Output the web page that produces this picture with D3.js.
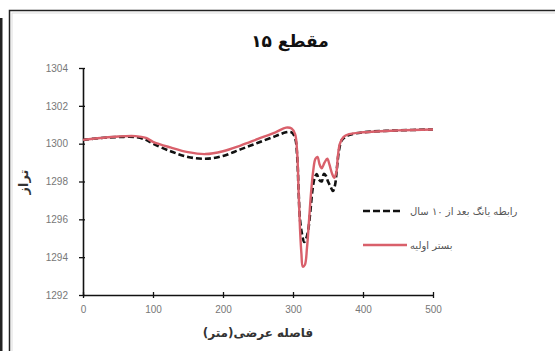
<!DOCTYPE html>
<html>
<head>
<meta charset="utf-8">
<script src="https://cdn.jsdelivr.net/npm/d3@7/dist/d3.min.js"></script>
<style>
  html, body { margin: 0; padding: 0; background: #fff; }
  svg { display: block; }
</style>
</head>
<body>
<svg id="chart" width="555" height="351"></svg>
<script>
// Cross-section 15: bed level along the transverse distance
const titleText = "مقطع ۱۵";
const xTitle = "فاصله عرضی(متر)";
const yTitle = "تراز";
const seriesNames = ["رابطه یانگ بعد از ۱۰ سال", "بستر اولیه"];

const xTicks = [0, 100, 200, 300, 400, 500];
const yTicks = [1292, 1294, 1296, 1298, 1300, 1302, 1304];

// Bed after 10 years (Yang relation)
const afterX = [0, 25, 50, 75, 90, 100, 125, 150, 175, 200, 225, 250, 275, 290, 298, 303, 306, 308, 310, 313, 316, 319, 322, 325, 328, 331, 334, 337, 341, 344, 347, 350, 354, 357, 360, 363, 366, 370, 380, 400, 450, 500];
const afterY = [1300.2, 1300.3, 1300.35, 1300.35, 1300.2, 1300.0, 1299.6, 1299.3, 1299.2, 1299.35, 1299.7, 1300.05, 1300.4, 1300.6, 1300.6, 1300.3, 1299.3, 1297.5, 1296.0, 1295.2, 1294.8, 1295.0, 1295.5, 1296.5, 1297.6, 1298.2, 1298.4, 1298.1, 1298.0, 1298.4, 1298.3, 1298.0, 1297.7, 1297.5, 1297.8, 1298.8, 1299.7, 1300.2, 1300.45, 1300.6, 1300.7, 1300.75];

// Initial bed
const initX = [0, 25, 50, 75, 90, 100, 125, 150, 175, 200, 225, 250, 275, 290, 298, 303, 306, 308, 310, 312, 314, 317, 320, 323, 326, 329, 332, 335, 338, 341, 345, 349, 352, 356, 359, 362, 364, 367, 372, 380, 400, 450, 500];
const initY = [1300.2, 1300.3, 1300.38, 1300.4, 1300.3, 1300.1, 1299.8, 1299.55, 1299.45, 1299.6, 1299.9, 1300.25, 1300.6, 1300.85, 1300.8, 1300.5, 1299.5, 1297.5, 1295.5, 1294.2, 1293.5, 1293.6, 1294.5, 1296.0, 1297.5, 1298.6, 1299.2, 1299.3, 1298.9, 1298.7, 1299.0, 1299.2, 1298.9, 1298.4, 1298.2, 1298.5, 1299.3, 1300.0, 1300.35, 1300.5, 1300.6, 1300.7, 1300.75];

const svg = d3.select("#chart");
const arabicFont = "'DejaVu Sans', 'Noto Sans', sans-serif";
const numFont = "'Liberation Sans', Arial, sans-serif";

// Frame
svg.append("rect").attr("x", 0).attr("y", 18).attr("width", 2.5).attr("height", 340).attr("fill", "#222");
svg.append("rect").attr("x", 9.5).attr("y", 10.5).attr("width", 560).attr("height", 360)
  .attr("fill", "none").attr("stroke", "#222").attr("stroke-width", 1.5);
svg.append("rect").attr("x", 12).attr("y", 13).attr("width", 560).attr("height", 360)
  .attr("fill", "none").attr("stroke", "#ddd").attr("stroke-width", 1);

const x = d3.scaleLinear().domain([0, 500]).range([83, 433]);
const y = d3.scaleLinear().domain([1292, 1304]).range([295, 68]);

// Axes
const xAxis = svg.append("g").attr("transform", `translate(0,${y(1292)})`)
  .call(d3.axisBottom(x).tickValues(xTicks).tickFormat(d3.format("d"))
    .tickSize(3).tickSizeOuter(0).tickPadding(8));
xAxis.selectAll(".tick line").attr("y1", -3).attr("y2", 3);
const yAxis = svg.append("g").attr("transform", `translate(${x(0)},0)`)
  .call(d3.axisLeft(y).tickValues(yTicks).tickFormat(d3.format("d"))
    .tickSize(4).tickSizeOuter(0).tickPadding(11));
yAxis.selectAll(".tick line").attr("x1", -4).attr("x2", 2);

[xAxis, yAxis].forEach(a => {
  a.select(".domain").attr("stroke", "#111").attr("stroke-width", 1.6);
  a.selectAll(".tick line").attr("stroke", "#111").attr("stroke-width", 1.3);
  a.selectAll(".tick text").attr("fill", "#777").attr("font-family", numFont).attr("font-size", 10);
});

// Lines
const line = d3.line().x(d => x(d[0])).y(d => y(d[1])).curve(d3.curveCatmullRom.alpha(0.5));
const afterData = afterX.map((v, i) => [v, afterY[i]]);
const initData = initX.map((v, i) => [v, initY[i]]);

svg.append("path").datum(afterData).attr("d", line)
  .attr("fill", "none").attr("stroke", "#111").attr("stroke-width", 2.6)
  .attr("stroke-dasharray", "6,3");
svg.append("path").datum(initData).attr("d", line)
  .attr("fill", "none").attr("stroke", "#d9606b").attr("stroke-width", 2.4);

// Titles
svg.append("text").attr("x", 290).attr("y", 47).attr("text-anchor", "middle")
  .attr("font-family", arabicFont).attr("font-weight", "bold").attr("font-size", 17)
  .attr("fill", "#111").text(titleText);
svg.append("text").attr("x", 258).attr("y", 337).attr("text-anchor", "middle")
  .attr("font-family", arabicFont).attr("font-weight", "bold").attr("font-size", 12)
  .attr("fill", "#333").text(xTitle);
svg.append("text").attr("transform", "translate(28,182) rotate(-90)").attr("text-anchor", "middle")
  .attr("font-family", arabicFont).attr("font-weight", "bold").attr("font-size", 13)
  .attr("fill", "#333").text(yTitle);

// Legend
const legend = svg.append("g");
legend.append("line").attr("x1", 363).attr("x2", 401).attr("y1", 211).attr("y2", 211)
  .attr("stroke", "#111").attr("stroke-width", 2.6).attr("stroke-dasharray", "7,3");
legend.append("line").attr("x1", 363).attr("x2", 407).attr("y1", 245).attr("y2", 245)
  .attr("stroke", "#d9606b").attr("stroke-width", 2.4);
legend.append("text").attr("x", 410).attr("y", 215).attr("font-family", arabicFont)
  .attr("font-size", 10).attr("fill", "#555").text(seriesNames[0]);
legend.append("text").attr("x", 410).attr("y", 249).attr("font-family", arabicFont)
  .attr("font-size", 10).attr("fill", "#555").text(seriesNames[1]);
</script>
</body>
</html>
